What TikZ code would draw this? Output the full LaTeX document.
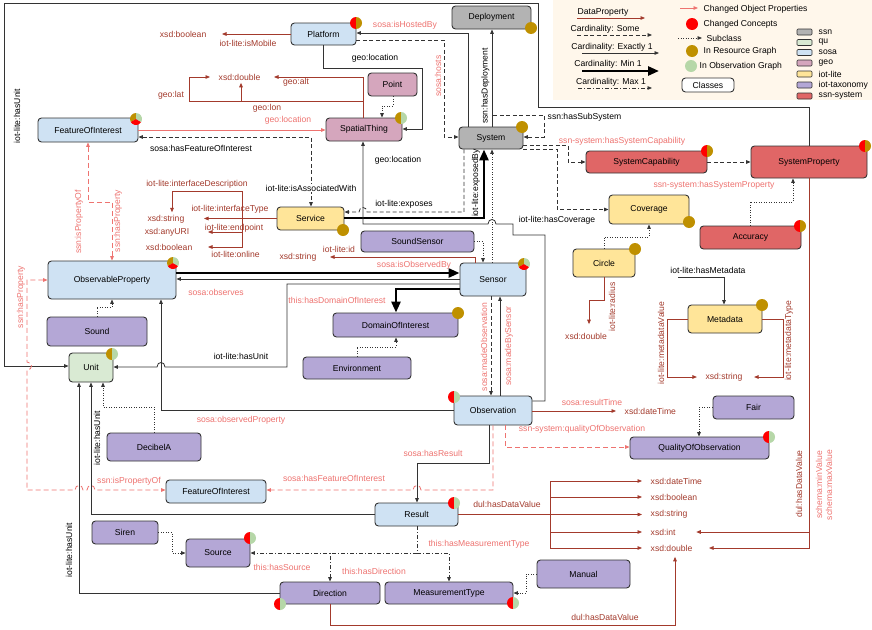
\documentclass[tikz,border=0pt]{standalone}
\usepackage{fontspec}
\setmainfont{Liberation Sans}
\usetikzlibrary{arrows.meta,calc}
\definecolor{dpC}{HTML}{A33A2C}
\definecolor{pkC}{HTML}{EE7370}
\definecolor{lnC}{HTML}{333333}
\definecolor{ssnC}{HTML}{B3B3B3}
\definecolor{quC}{HTML}{D9EAD3}
\definecolor{sosaC}{HTML}{CFE2F3}
\definecolor{geoC}{HTML}{D5A6BD}
\definecolor{iotC}{HTML}{FFE599}
\definecolor{taxC}{HTML}{B4A7D6}
\definecolor{ssysC}{HTML}{E06666}
\definecolor{goldC}{HTML}{BF9000}
\definecolor{greenC}{HTML}{B6D7A8}
\definecolor{redC}{HTML}{FF0000}
\definecolor{legC}{HTML}{FFF7EB}
\newcommand\clsnode[7]{\node[clsbox,fill=#6,minimum width=#4,minimum height=#5] (#1) at (#2,#3) {#7};}
\newcommand\mkA[3]{\begin{scope}[shift={(#1)}]\fill[#2] (0,0) -- (90:6pt) arc[start angle=90,end angle=270,radius=6pt] -- cycle;\fill[#3] (0,0) -- (-90:6pt) arc[start angle=-90,end angle=90,radius=6pt] -- cycle;\end{scope}}
\newcommand\mkT[1]{\begin{scope}[shift={(#1)}]\fill[goldC] (0,0) -- (90:6pt) arc[start angle=90,end angle=210,radius=6pt] -- cycle;\fill[redC] (0,0) -- (210:6pt) arc[start angle=210,end angle=330,radius=6pt] -- cycle;\fill[greenC] (0,0) -- (330:6pt) arc[start angle=330,end angle=450,radius=6pt] -- cycle;\end{scope}}
\newcommand\mkG[1]{\fill[goldC] (#1) circle[radius=6pt];}
\tikzset{
 clsbox/.style={draw=lnC,line width=0.9pt,rounded corners=3.5pt,inner sep=0pt,text=black},
 ln/.style={draw=lnC,line width=0.8pt},
 ex1/.style={ln,->},
 some/.style={ln,dash pattern=on 4pt off 2.5pt,->},
 sub/.style={ln,dash pattern=on 1pt off 1.5pt,->},
 maxone/.style={ln,dash pattern=on 4pt off 2pt on 1pt off 2pt,->},
 minone/.style={draw=black,line width=2.6pt,-{Triangle[length=11pt,width=9pt]}},
 dp/.style={draw=dpC,line width=0.8pt,->},
 pkd/.style={draw=pkC,line width=0.8pt,dash pattern=on 5pt off 3pt,->},
 pks/.style={draw=pkC,line width=0.8pt,->},
 lbl/.style={inner sep=0.5pt,text=black},
 plbl/.style={inner sep=0.5pt,text=pkC},
 dlbl/.style={inner sep=0.5pt,text=dpC},
}
\begin{document}
\begin{tikzpicture}[x=1pt,y=-1pt,font=\fontsize{8.6}{10}\selectfont,>={Triangle[length=4.5pt,width=3.6pt]}]
\useasboundingbox (0,0) rectangle (872,629);
\fill[white] (0,0) rectangle (872,629);
% ---------- legend ----------
\fill[legC] (553,0) rectangle (872,100);
\node[lbl] (lgDP) at (603,12) {DataProperty};
\draw[dp] (577,18) -- (645,18);
\node[lbl] (lgSome) at (605,29) {Cardinality: Some};
\draw[some] (577,35) -- (652,35);
\node[lbl] (lgEx) at (612,47) {Cardinality: Exactly 1};
\draw[ex1] (582,53) -- (659,53);
\node[lbl] (lgMin) at (608,64) {Cardinality: Min 1};
\draw[minone] (582,71) -- (659,71);
\node[lbl] (lgMax) at (611,82) {Cardinality: Max 1};
\draw[maxone] (578,88) -- (652,88);
\draw[pks] (680,8) -- (698,8);
\node[lbl,anchor=west] at (703,9) {Changed Object Properties};
\fill[redC] (692,24) circle[radius=6pt];
\node[lbl,anchor=west] at (703,24) {Changed Concepts};
\draw[sub] (678,38) -- (702,38);
\node[lbl,anchor=west] at (706,38) {Subclass};
\fill[goldC] (692,51) circle[radius=6pt];
\node[lbl,anchor=west] at (703,51) {In Resource Graph};
\fill[greenC] (691,66) circle[radius=6pt];
\node[lbl,anchor=west] at (699,66) {In Observation Graph};
\node[clsbox,fill=white,minimum width=52,minimum height=14] (lgCls) at (708,85) {Classes};
\foreach \yy/\cc/\nm in {32/ssnC/ssn,42.5/quC/qu,52.5/sosaC/sosa,63/geoC/geo,74/iotC/iot-lite,85/taxC/iot-taxonomy,96/ssysC/ssn-system}{
  \draw[fill=\cc,draw=lnC,rounded corners=1pt,line width=0.6pt] (797,\yy-3) rectangle (812,\yy+3);
  \node[lbl,anchor=west] at (818,\yy) {\nm};}
% ---------- classes ----------
\clsnode{plat}{323.5}{34}{65}{22}{sosaC}{Platform}
\clsnode{depl}{491.5}{17.5}{79}{23}{ssnC}{Deployment}
\clsnode{point}{392.5}{84.5}{49}{23}{geoC}{Point}
\clsnode{spat}{364}{129.5}{76}{23}{geoC}{SpatialThing}
\clsnode{foiA}{88}{130}{100}{24}{sosaC}{FeatureOfInterest}
\clsnode{sys}{491}{138}{64}{22}{ssnC}{System}
\clsnode{scap}{646.5}{162}{121}{22}{ssysC}{SystemCapability}
\clsnode{sprop}{809}{162}{116}{32}{ssysC}{SystemProperty}
\clsnode{cov}{649}{209.5}{80}{29}{iotC}{Coverage}
\clsnode{acc}{750.5}{237.5}{101}{23}{ssysC}{Accuracy}
\clsnode{circ}{604}{263}{62}{28}{iotC}{Circle}
\clsnode{meta}{725}{319}{74}{28}{iotC}{Metadata}
\clsnode{serv}{310.5}{218.5}{67}{23}{iotC}{Service}
\clsnode{ssens}{417.5}{241.5}{113}{21}{taxC}{SoundSensor}
\clsnode{sens}{493}{279.5}{66}{33}{sosaC}{Sensor}
\clsnode{obsp}{112}{280}{128}{38}{sosaC}{ObservableProperty}
\clsnode{sound}{97}{331.5}{100}{29}{taxC}{Sound}
\clsnode{unit}{91}{367.5}{44}{29}{quC}{Unit}
\clsnode{doi}{395.5}{325}{125}{24}{taxC}{DomainOfInterest}
\clsnode{env}{357}{368}{108}{22}{taxC}{Environment}
\clsnode{obs}{493}{410.5}{78}{29}{sosaC}{Observation}
\clsnode{fair}{753.5}{407.5}{81}{23}{taxC}{Fair}
\clsnode{qoo}{699.5}{448}{139}{22}{taxC}{QualityOfObservation}
\clsnode{decib}{154}{447}{94}{28}{taxC}{DecibelA}
\clsnode{foiB}{216}{491.5}{100}{23}{sosaC}{FeatureOfInterest}
\clsnode{res}{416.5}{514.5}{83}{23}{sosaC}{Result}
\clsnode{siren}{125}{532.5}{66}{23}{taxC}{Siren}
\clsnode{src}{218}{553}{64}{28}{taxC}{Source}
\clsnode{dir}{330}{593}{100}{22}{taxC}{Direction}
\clsnode{mtype}{449}{593}{128}{22}{taxC}{MeasurementType}
\clsnode{manual}{583.5}{574}{93}{28}{taxC}{Manual}
% ---------- datatypes ----------
\node[dlbl,anchor=east] (tBoolA) at (207,34) {xsd:boolean};
\node[dlbl,anchor=west] (tDblA) at (218,77) {xsd:double};
\node[dlbl,anchor=east] (tStrA) at (185,219) {xsd:string};
\node[dlbl,anchor=east] (tURI) at (190,232) {xsd:anyURI};
\node[dlbl,anchor=east] (tBoolB) at (193,247) {xsd:boolean};
\node[dlbl,anchor=east] (tStrB) at (317,257) {xsd:string};
\node[dlbl] (tDblB) at (586,336) {xsd:double};
\node[dlbl] (tStrC) at (724,377) {xsd:string};
\node[dlbl,anchor=west] (tDTA) at (624,411) {xsd:dateTime};
\node[dlbl,anchor=west] (tDTB) at (650,481) {xsd:dateTime};
\node[dlbl,anchor=west] (tBoolC) at (650,497) {xsd:boolean};
\node[dlbl,anchor=west] (tStrD) at (650,514.5) {xsd:string};
\node[dlbl,anchor=west] (tInt) at (650,532) {xsd:int};
\node[dlbl,anchor=west] (tDblC) at (650,548) {xsd:double};
% ---------- edges ----------
% Platform
\draw[dp] (plat.west) -- ($(tBoolA.east)+(15,0)$);
\node[dlbl] at (248,43) {iot-lite:isMobile};
\draw[dp] (spat.north -| 363,0) -- (363,77) -- ($(tDblA.east)+(13,0)$);
\draw[dp] (spat.north -| 363,0) -- (363,101) -- (189,101) -- (189,77) -- ($(tDblA.west)+(-8,0)$);
\draw[dp] (spat.north -| 363,0) -- (363,101) -- (241,101) -- ($(tDblA.south -| 241,0)+(0,2)$);
\node[dlbl] at (171,95) {geo:lat};
\node[dlbl] at (267,108) {geo:lon};
\node[dlbl] at (296,82) {geo:alt};
\draw[pks] (foiA.east) -- (spat.west |- foiA.east);
\node[plbl] at (288,120) {geo:location};
\draw[some,<->] (foiA.east |- 0,137) -- (311,137) -- (serv.north -| 311,0);
\node[lbl] at (201,148) {sosa:hasFeatureOfInterest};
\node[lbl,fill=white] at (311,188) {iot-lite:isAssociatedWith};
\draw[ex1] (sys.north -| 468,0) -- (468,33) -- (plat.east |- 0,33);
\node[plbl] at (405,25) {sosa:isHostedBy};
\draw[some] (plat.east |- 0,40) -- (444,40) -- (444,137) -- (sys.west |- 0,137);
\node[plbl,rotate=90] at (438,76) {sosa:hosts};
\draw[ex1] (plat.south) -- (323.5,68) -- (422,68) -- (422,129) -- (spat.east |- 0,129);
\node[lbl] at (375,58) {geo:location};
\draw[sub] (point.south -| 393,0) -- (393,106) -- (382,106) -- (spat.north -| 382,0);
% System
\draw[ex1] (sys.north -| 492,0) -- (depl.south -| 492,0);
\node[lbl,rotate=90] at (485.5,86) {ssn:hasDeployment};
\draw[some] (sys.north -| 492,0) -- (492,115) -- (544,115) -- (544,137) -- (sys.east |- 0,137);
\node[lbl,anchor=west] at (547,117) {ssn:hasSubSystem};
\draw[ex1] (sprop.north) -- (809,107) -- (538,107) -- (538,3) -- (4,3) -- (4,366) -- (unit.west |- 0,366);
\node[lbl,rotate=90] at (17,116) {iot-lite:hasUnit};
\draw[some] (sys.east |- 0,145) -- (568,145) -- (568,162) -- (scap.west);
\node[plbl] at (622,141) {ssn-system:hasSystemCapability};
\draw[some] (scap.east) -- (sprop.west);
\node[plbl] at (714,185) {ssn-system:hasSystemProperty};
\draw[some] (sys.east |- 0,149) -- (557,149) -- (557,209.5) -- (cov.west);
\node[lbl] at (557,220) {iot-lite:hasCoverage};
\draw[sub] (acc.north -| 750,0) -- (750,202) -- (793,202) -- (sprop.south -| 793,0);
\draw[sub] (circ.north) -- (604,237) -- (649,237) -- (cov.south);
\draw[dp] (circ.south) -- (604,300) -- (589,300) -- ($(tDblB.north -| 589,0)+(0,-8)$);
\node[dlbl,rotate=90] at (612,307) {iot-lite:radius};
\node[lbl] (lMeta) at (708,270) {iot-lite:hasMetadata};
\coordinate (mStart) at (678,277);
\draw[ex1] (mStart) -- (724,277) -- (meta.north -| 724,0);
\draw[dp] (meta.west) -- (667,319) -- (667,377) -- ($(tStrC.west)+(-8,0)$);
\draw[dp] (meta.east) -- (783,319) -- (783,377) -- ($(tStrC.east)+(11,0)$);
\node[dlbl,rotate=90] at (661,343) {iot-lite:metadataValue};
\node[dlbl,rotate=90] at (789,341) {iot-lite:metadataType};
\draw[sub] (fair.west) -- (699,407.5) -- (qoo.north -| 699,0);
\draw[dp] (obs.east |- 0,411) -- ($(tDTA.west)+(-8,0)$);
\node[plbl] at (592,402) {sosa:resultTime};
\draw[pkd] (obs.south -| 505,0) -- (505,447) -- (qoo.west |- 0,447);
\node[plbl] at (582,429) {ssn-system:qualityOfObservation};
\draw[dp] (sprop.south) -- (809,532) -- ($(tInt.east)+(20,0)$);
\draw[dp] (sprop.south) -- (809,548) -- ($(tDblC.east)+(16,0)$);
\node[dlbl,rotate=90] at (799,484) {dul:hasDataValue};
\node[plbl,rotate=90] at (819,485) {schema:minValue};
\node[plbl,rotate=90] at (829,485) {schema:maxValue};
% Sensor
\draw[some] (sens.south -| 491,0) -- (obs.north -| 491,0);
\node[plbl,rotate=90] at (484,347) {sosa:madeObservation};
\draw[ex1] (obs.north -| 500,0) -- (sens.south -| 500,0);
\node[plbl,rotate=90] at (509,346) {sosa:madeBySensor};
\draw[sub] (ssens.east) -- (483,241.5) -- (sens.north -| 483,0);
\draw[sub] (sens.north -| 492,0) -- (sys.south -| 492,0);
\draw[some] (sys.south -| 464,0) -- (464,212) -- (367,212) .. controls (367,206) and (359,206) .. (359,212) -- (serv.east |- 0,212);
\node[lbl] at (404,204) {iot-lite:exposes};
\draw[minone] (serv.east |- 0,218) -- (484,218) -- (sys.south -| 484,0);
\node[lbl,rotate=90] at (476,183) {iot-lite:exposedBy};
\draw[ex1] (obs.east |- 0,401) -- (545,401) -- (545,235) -- (513,235) -- (513,224) -- (496,224) .. controls (496,218) and (488,218) .. (488,224) -- (363,224) -- (spat.south -| 363,0);
\node[lbl] at (398,160) {geo:location};
\draw[minone] (obsp.east |- 0,273) -- (sens.west |- 0,273);
\node[plbl] at (414,265) {sosa:isObservedBy};
\draw[ex1] (sens.west |- 0,279) -- (obsp.east |- 0,279);
\node[plbl] at (216,292) {sosa:observes};
\draw[minone] (sens.west |- 0,289) -- (396,289) -- (doi.north -| 396,0);
\node[plbl] at (337,300) {this:hasDomainOfInterest};
\draw[ex1] (sens.west |- 0,284) -- (287,284) -- (287,367) -- (165,367) .. controls (165,361) and (157,361) .. (157,367) -- (unit.east |- 0,367);
\node[lbl] at (241,356) {iot-lite:hasUnit};
\draw[ex1] (obs.west |- 0,410) -- (161,410) -- (obsp.south -| 161,0);
\node[plbl] at (241,420) {sosa:observedProperty};
\draw[sub] (sound.north) -- (97,307) -- (112,307) -- (obsp.south -| 112,0);
\draw[sub] (env.north) -- (357,347) -- (396,347) -- (doi.south -| 396,0);
\draw[dp] (sens.north -| 475,0) -- (475,257) -- ($(tStrB.east)+(13,0)$);
\node[dlbl] at (339,249) {iot-lite:id};
% Service data properties
\draw[dp] (serv.west) -- ($(serv.west -| tStrA.east)+(19,0)$);
\draw[dp] (serv.west) -- (242,218.5) -- (242,191) -- (172,191) -- ($(tStrA.north -| 172,0)+(0,-2)$);
\draw[dp] (serv.west) -- (242,218.5) -- (242,232) -- ($(tURI.east)+(18,0)$);
\draw[dp] (serv.west) -- (242,218.5) -- (242,247) -- ($(tBoolB.east)+(15,0)$);
\node[dlbl] at (197,184) {iot-lite:interfaceDescription};
\node[dlbl] at (230,209) {iot-lite:interfaceType};
\node[dlbl] at (234,228) {iot-lite:endpoint};
\node[dlbl] at (235.5,254) {iot-lite:online};
% property links
\draw[pkd,<->] (obsp.west |- 0,280) -- (27,280) -- (27,362) .. controls (33,362) and (33,370) .. (27,370) -- (27,490) -- (75,490) .. controls (75,484) and (83,484) .. (83,490) -- (87,490) .. controls (87,484) and (95,484) .. (95,490) -- (foiB.west |- 0,490);
\node[plbl,rotate=90] at (21,297) {ssn:hasProperty};
\node[plbl] at (129,481) {ssn:isPropertyOf};
\draw[pkd,<->] (foiA.south -| 88,0) -- (88,202) -- (112,202) -- (obsp.north -| 112,0);
\node[plbl,rotate=90] at (79,222) {ssn:isPropertyOf};
\node[plbl,rotate=90] at (118,221) {ssn:hasProperty};
% Observation
\draw[pkd] (obs.south -| 493,0) -- (493,490) -- (421,490) .. controls (421,484) and (413,484) .. (413,490) -- (foiB.east |- 0,490);
\node[plbl] at (334,478) {sosa:hasFeatureOfInterest};
\draw[ex1] (obs.south -| 489,0) -- (489,463) -- (417,463) -- (res.north -| 417,0);
\node[plbl] at (433,453) {sosa:hasResult};
\draw[ex1] (res.west) -- (91,514.5) -- (unit.south -| 91,0);
\node[lbl,rotate=90] at (97,438) {iot-lite:hasUnit};
\draw[ex1] (dir.west) -- (79,593) -- (unit.south -| 79,0);
\node[lbl,rotate=90] at (69,550) {iot-lite:hasUnit};
\draw[sub] (decib.north) -- (154,407) -- (103,407) -- (unit.south -| 103,0);
\foreach \tg in {tDTB,tBoolC,tStrD,tInt,tDblC}{
  \draw[dp] (res.east) -- (550,514.5) -- (550,0 |- \tg.west) -- ($(\tg.west)+(-8,0)$);}
\node[dlbl] at (507,504) {dul:hasDataValue};
\draw[dp] (dir.south) -- (330,625) -- (675,625) -- ($(tDblC.south -| 675,0)+(0,5)$);
\node[dlbl] at (605,617) {dul:hasDataValue};
\draw[maxone] (res.south -| 417,0) -- (417,553) -- (449,553) -- (mtype.north -| 449,0);
\draw[maxone] (res.south -| 417,0) -- (417,553) -- (330,553) -- (dir.north);
\draw[maxone] (res.south -| 417,0) -- (417,553) -- (src.east |- 0,553);
\node[plbl] at (479,544) {this:hasMeasurementType};
\node[plbl] at (374,571) {this:hasDirection};
\node[plbl] at (282,567) {this:hasSource};
\draw[sub] (siren.east) -- (172,532.5) -- (172,553) -- (src.west);
\draw[sub] (manual.west) -- (526,574) -- (526,593) -- (mtype.east);
% ---------- markers ----------
\mkA{356,23}{redC}{goldC}
\mkG{531,28}
\mkA{401,118}{goldC}{greenC}
\mkT{136,119}
\mkG{522,127}
\mkA{707,151}{redC}{goldC}
\mkA{865,146}{redC}{goldC}
\mkG{689,222}
\mkA{800,226}{redC}{goldC}
\mkG{635,249}
\mkG{762,305}
\mkG{343,230}
\mkT{524,264}
\mkT{173,263}
\mkA{112,354}{goldC}{greenC}
\mkG{458,313}
\mkA{454,397}{redC}{greenC}
\mkA{769,437}{redC}{greenC}
\mkA{454,503}{redC}{greenC}
\mkA{250,538}{redC}{greenC}
\mkA{280,604}{redC}{greenC}
\mkA{513,603}{redC}{greenC}
\end{tikzpicture}
\end{document}
